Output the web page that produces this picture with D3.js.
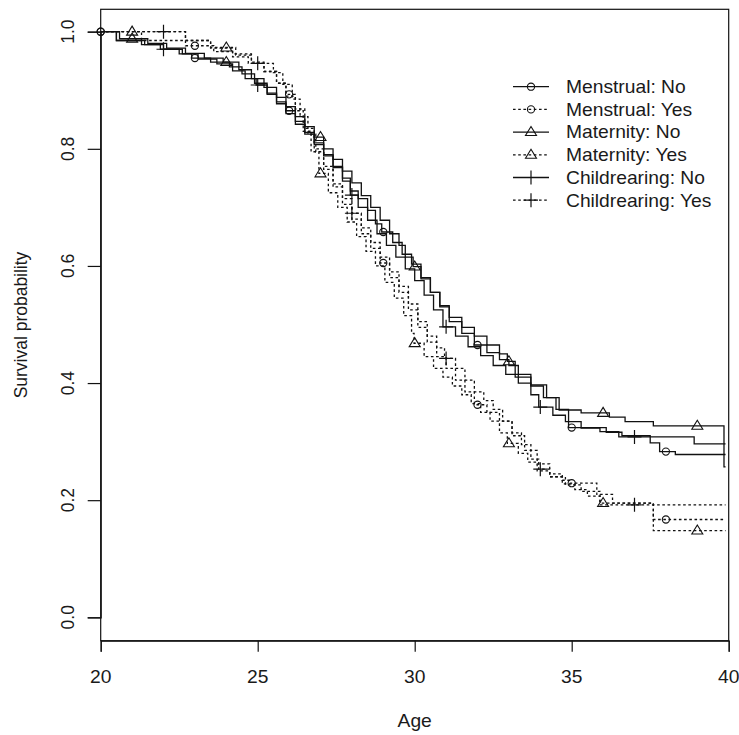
<!DOCTYPE html>
<html>
<head>
<meta charset="utf-8">
<script src="https://cdn.jsdelivr.net/npm/d3@7"></script>
<style>
  html, body { margin: 0; padding: 0; background: #fff; }
  svg { display: block; }
  text { font-family: "Liberation Sans", Arial, sans-serif; fill: #1a1a1a; }
</style>
</head>
<body>
<svg id="chart"></svg>
<script>
/* ---------- data ---------- */
const xTicks = [20, 25, 30, 35, 40];
const yTicks = [0, 0.2, 0.4, 0.6, 0.8, 1.0];

const menstrualNoT = [20.5,21.4,22.0,22.6,22.9,23.5,24.1,24.5,24.9,25.3,25.6,25.9,26.2,26.5,26.8,27.1,27.4,27.7,27.95,28.2,28.5,28.75,28.95,29.3,29.6,29.9,30.2,30.5,30.8,31.1,31.5,31.9,32.3,32.7,33.0,33.3,33.7,34.1,34.5,34.9,36.1,36.6,37.5,37.8,38.3];
const menstrualNoS = [.985,.978,.97,.962,.955,.948,.94,.928,.912,.895,.88,.865,.847,.828,.81,.79,.77,.75,.728,.715,.695,.672,.658,.64,.62,.603,.58,.555,.53,.505,.485,.465,.452,.44,.43,.415,.395,.375,.355,.324,.316,.31,.298,.283,.278];

const menstrualYesT = [21.3,22.7,23.6,24.2,24.7,25.2,25.6,25.9,26.2,26.5,26.8,27.1,27.4,27.7,28.0,28.3,28.6,28.9,29.2,29.5,29.8,30.1,30.4,30.7,31.0,31.3,31.6,31.9,32.3,32.7,33.1,33.5,33.9,34.3,34.7,34.95,35.8,36.3,37.6];
const menstrualYesS = [.985,.976,.966,.957,.946,.932,.912,.893,.868,.835,.80,.765,.735,.705,.68,.655,.63,.605,.58,.555,.525,.495,.47,.445,.425,.405,.385,.363,.35,.335,.31,.285,.262,.245,.234,.229,.21,.195,.167];

const maternityNoT = [20.6,21.5,22.1,22.7,23.3,23.9,24.4,24.8,25.2,25.6,25.9,26.2,26.5,26.8,27.1,27.4,27.7,28.0,28.3,28.6,28.9,29.2,29.5,29.7,29.95,30.2,30.5,30.8,31.1,31.5,31.9,32.3,32.7,32.95,33.2,33.7,34.2,34.6,35.3,36.2,36.7,37.6,39.85];
const maternityNoS = [.988,.98,.972,.963,.955,.948,.935,.92,.905,.888,.872,.855,.838,.82,.80,.782,.762,.742,.72,.70,.678,.655,.635,.615,.599,.578,.555,.532,.512,.495,.48,.465,.45,.437,.41,.397,.375,.354,.349,.342,.334,.327,.257];

const maternityYesT = [22.7,23.5,24.3,24.8,25.2,25.6,25.9,26.2,26.45,26.7,26.95,27.25,27.55,27.85,28.15,28.45,28.75,29.05,29.35,29.65,29.9,29.98,30.3,30.6,30.9,31.2,31.5,31.8,32.1,32.4,32.7,32.95,33.3,33.6,33.9,34.3,34.7,35.1,35.5,35.9,37.6];
const maternityYesS = [.985,.973,.96,.948,.932,.912,.89,.865,.83,.795,.758,.725,.70,.675,.65,.625,.60,.572,.545,.515,.485,.468,.445,.425,.41,.395,.38,.365,.35,.335,.315,.297,.28,.265,.25,.24,.228,.218,.207,.195,.148];

const childNoT = [20.5,21.3,21.9,22.5,23.1,23.7,24.2,24.6,24.95,25.3,25.6,25.9,26.2,26.5,26.8,27.1,27.4,27.7,27.95,28.2,28.5,28.8,29.1,29.4,29.7,30.0,30.3,30.6,30.9,31.3,31.7,32.1,32.5,32.9,33.3,33.7,33.95,34.4,34.8,35.3,35.9,36.5,38.9];
const childNoS = [.985,.978,.97,.962,.953,.945,.933,.92,.909,.893,.877,.86,.842,.825,.807,.788,.768,.745,.721,.70,.678,.655,.635,.615,.595,.575,.55,.525,.496,.48,.462,.447,.43,.415,.40,.38,.359,.345,.334,.323,.317,.308,.296];

const childYesT = [22.7,23.5,24.2,24.8,25.5,25.8,26.1,26.35,26.6,26.85,27.1,27.4,27.7,28.0,28.3,28.6,28.9,29.2,29.5,29.8,30.1,30.4,30.7,30.95,31.3,31.6,31.9,32.2,32.5,32.8,33.1,33.4,33.7,33.95,34.3,34.8,35.3,35.9];
const childYesS = [.985,.972,.962,.946,.93,.91,.885,.855,.825,.795,.77,.74,.715,.69,.665,.64,.615,.59,.565,.535,.505,.48,.46,.442,.425,.405,.385,.37,.355,.335,.315,.295,.27,.253,.24,.226,.215,.192];

const menstrualMarks = [20, 23, 26, 29, 32, 35, 38];
const maternityMarks = [21, 24, 27, 30, 33, 36, 39];
const childMarks     = [22, 25, 28, 31, 34, 37];

const series = [
  { name: "Menstrual: No",     t: menstrualNoT,  s: menstrualNoS,  dotted: false, sym: "circle",   marks: menstrualMarks },
  { name: "Menstrual: Yes",    t: menstrualYesT, s: menstrualYesS, dotted: true,  sym: "circle",   marks: menstrualMarks },
  { name: "Maternity: No",     t: maternityNoT,  s: maternityNoS,  dotted: false, sym: "triangle", marks: maternityMarks },
  { name: "Maternity: Yes",    t: maternityYesT, s: maternityYesS, dotted: true,  sym: "triangle", marks: maternityMarks },
  { name: "Childrearing: No",  t: childNoT,      s: childNoS,      dotted: false, sym: "plus",     marks: childMarks },
  { name: "Childrearing: Yes", t: childYesT,     s: childYesS,     dotted: true,  sym: "plus",     marks: childMarks }
];

/* ---------- setup ---------- */
const width = 739, height = 735;
const box = { left: 100.7, right: 728.7, top: 9.3, bottom: 640.7 };
const tEnd = 39.9;
const fs = 17.5, sx = 1.1;   // picture is a bit stretched sideways
const dash = "2.6,2.6";

const svg = d3.select("#chart").attr("width", width).attr("height", height);

const x = d3.scaleLinear().domain([20, 40]).range([box.left, box.right]);
const y = d3.scaleLinear().domain([0, 1]).range([617.3, 31.7]);

// plot frame
svg.append("rect")
  .attr("x", box.left).attr("y", box.top)
  .attr("width", box.right - box.left).attr("height", box.bottom - box.top)
  .attr("fill", "none").attr("stroke", "#111").attr("stroke-width", 1.2);

// axes
const xAxis = svg.append("g").attr("transform", `translate(0,${box.bottom})`)
  .call(d3.axisBottom(x).tickValues(xTicks).tickSize(11).tickFormat(""));
const yAxis = svg.append("g").attr("transform", `translate(${box.left},0)`)
  .call(d3.axisLeft(y).tickValues(yTicks).tickSize(13).tickFormat(""));
[xAxis, yAxis].forEach(g => {
  g.select(".domain").attr("stroke", "#111").attr("stroke-width", 1.2);
  g.selectAll(".tick line").attr("stroke", "#111").attr("stroke-width", 1.2);
});

svg.append("g").selectAll("text").data(xTicks).join("text")
  .attr("transform", d => `translate(${x(d)},683) scale(${sx},1)`)
  .attr("text-anchor", "middle").attr("font-size", fs)
  .text(d => d);

svg.append("g").selectAll("text").data(yTicks).join("text")
  .attr("transform", d => `translate(74,${y(d)}) scale(${sx},1) rotate(-90)`)
  .attr("text-anchor", "middle").attr("font-size", fs)
  .text(d => d3.format(".1f")(d));

svg.append("text")
  .attr("transform", `translate(${(box.left + box.right) / 2},727) scale(${sx},1)`)
  .attr("text-anchor", "middle").attr("font-size", fs)
  .text("Age");

svg.append("text")
  .attr("transform", `translate(27,${(box.top + box.bottom) / 2}) scale(${sx},1) rotate(-90)`)
  .attr("text-anchor", "middle").attr("font-size", fs)
  .text("Survival probability");

/* ---------- curves ---------- */
const line = d3.line().x(d => x(d[0])).y(d => y(d[1])).curve(d3.curveStepAfter);

function stepPoints(d) {
  const pts = [[20, 1]];
  d.t.forEach((t, i) => pts.push([t, d.s[i]]));
  pts.push([tEnd, d.s[d.s.length - 1]]);
  return pts;
}
function survAt(d, t) {
  let v = 1;
  d.t.forEach((tt, i) => { if (tt <= t) v = d.s[i]; });
  return v;
}

function drawSymbol(g, type, cx, cy) {
  if (type === "circle") {
    g.append("circle").attr("cx", cx).attr("cy", cy).attr("r", 3.6)
      .attr("fill", "none").attr("stroke", "#111").attr("stroke-width", 1.1);
  } else if (type === "triangle") {
    const h = 9, w = 11;
    g.append("path")
      .attr("d", `M${cx},${cy - h * 0.62} L${cx + w / 2},${cy + h * 0.38} L${cx - w / 2},${cy + h * 0.38} Z`)
      .attr("fill", "none").attr("stroke", "#111").attr("stroke-width", 1.1);
  } else {
    g.append("path")
      .attr("d", `M${cx - 7},${cy} H${cx + 7} M${cx},${cy - 7} V${cx === cx ? cy + 7 : 0}`)
      .attr("fill", "none").attr("stroke", "#111").attr("stroke-width", 1.2);
  }
}

const curveLayer = svg.append("g");
series.forEach(d => {
  curveLayer.append("path")
    .attr("d", line(stepPoints(d)))
    .attr("fill", "none").attr("stroke", "#111")
    .attr("stroke-width", 1.3)
    .attr("stroke-dasharray", d.dotted ? dash : null);
});

const markLayer = svg.append("g");
series.forEach(d => {
  d.marks.forEach(t => drawSymbol(markLayer, d.sym, x(t), y(survAt(d, t))));
});

/* ---------- legend ---------- */
const legend = svg.append("g").attr("transform", "translate(513,86.7)");
series.forEach((d, i) => {
  const g = legend.append("g").attr("transform", `translate(0,${i * 22.7})`);
  g.append("line").attr("x1", 0).attr("x2", 36).attr("y1", 0).attr("y2", 0)
    .attr("stroke", "#111").attr("stroke-width", 1.3)
    .attr("stroke-dasharray", d.dotted ? dash : null);
  drawSymbol(g, d.sym, 18, 0);
  g.append("text")
    .attr("transform", `translate(53,6.3) scale(${sx},1)`)
    .attr("font-size", fs)
    .text(d.name);
});
</script>
</body>
</html>
